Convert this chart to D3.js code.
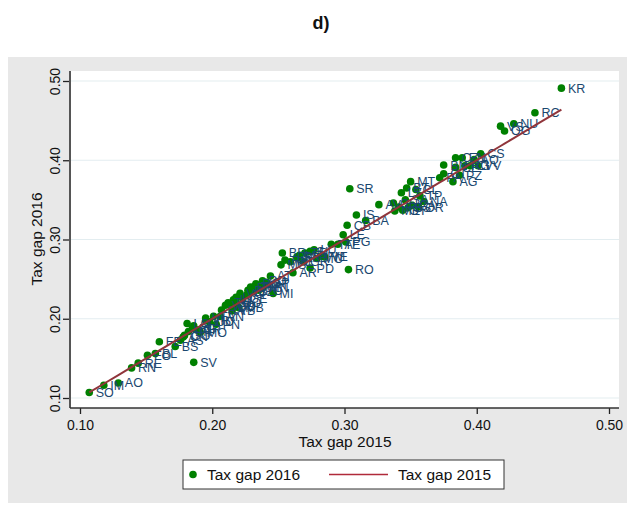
<!DOCTYPE html>
<html><head><meta charset="utf-8">
<script src="https://cdn.jsdelivr.net/npm/d3@7/dist/d3.min.js"></script>
<style>body{margin:0;background:#fff}svg{display:block}text{font-family:"Liberation Sans",Arial,sans-serif}</style>
</head><body><svg id="c" width="627" height="505"></svg>
<script>
const labels = ["SO","IM","AO","RN","RE","FO","BL","FE","SV","BS","AS","CN","LO","PR","BG","CR","MO","VR","UD","TV","AN","PN","VA","CO","LC","NO","VC","GE","MB","PV","TN","BZ","PC","MN","MI","PT","AT","MS","BR","AR","PD","VE","RI","VT","TR","SI","LU","GR","MC","PE","TA","PG","LE","CB","IS","BA","RO","SR","AV","CH","FG","LT","BT","MT","CL","SA","CA","SS","TP","NA","OT","PA","CT","BN","CZ","EN","CS","CE","CI","VV","AG","PZ","RG","AQ","VS","OG","NU","RC","KR","RA","BI","LI","PI","FI","BO","SP","TS","VI","AL","RM","FR","VB","GO","PO","FM","TE","ME","OR","TO"];
const gap2015 = [0.107,0.118,0.129,0.139,0.144,0.151,0.157,0.160,0.186,0.172,0.176,0.178,0.181,0.182,0.185,0.188,0.191,0.195,0.198,0.201,0.206,0.203,0.210,0.214,0.216,0.218,0.221,0.223,0.220,0.229,0.232,0.230,0.235,0.238,0.246,0.241,0.244,0.252,0.253,0.261,0.274,0.285,0.264,0.266,0.270,0.274,0.277,0.269,0.279,0.259,0.290,0.301,0.299,0.302,0.309,0.316,0.303,0.304,0.326,0.337,0.341,0.343,0.347,0.350,0.354,0.346,0.351,0.348,0.357,0.360,0.344,0.372,0.375,0.375,0.384,0.389,0.403,0.384,0.395,0.401,0.382,0.387,0.391,0.398,0.418,0.421,0.428,0.444,0.464,0.207,0.215,0.218,0.226,0.227,0.233,0.241,0.236,0.195,0.186,0.255,0.265,0.215,0.179,0.238,0.282,0.295,0.338,0.356,0.212];
const gap2016 = [0.107,0.116,0.119,0.138,0.144,0.154,0.156,0.171,0.145,0.165,0.173,0.177,0.194,0.184,0.188,0.186,0.183,0.198,0.196,0.203,0.203,0.193,0.217,0.217,0.224,0.221,0.232,0.226,0.214,0.240,0.241,0.234,0.236,0.239,0.232,0.243,0.254,0.268,0.283,0.258,0.264,0.278,0.278,0.280,0.283,0.285,0.287,0.272,0.276,0.272,0.294,0.297,0.306,0.318,0.331,0.324,0.262,0.364,0.344,0.346,0.341,0.359,0.365,0.373,0.363,0.350,0.343,0.340,0.355,0.348,0.337,0.378,0.383,0.394,0.403,0.403,0.408,0.391,0.393,0.393,0.373,0.381,0.393,0.401,0.443,0.437,0.446,0.460,0.491,0.211,0.215,0.227,0.230,0.236,0.244,0.246,0.240,0.201,0.191,0.274,0.277,0.210,0.179,0.248,0.279,0.294,0.336,0.341,0.220];
const xTicks = [0.10,0.20,0.30,0.40,0.50];
const yTicks = [0.10,0.20,0.30,0.40,0.50];
const data = labels.map((l,i)=>({l, x:gap2015[i], y:gap2016[i]}));

const svg = d3.select("#c");
const W=627,H=505;
const pl=70, pr=619, pt=71, pb=408;
const x = d3.scaleLinear().domain([0.10,0.50]).range([80,609]);
const y = d3.scaleLinear().domain([0.10,0.50]).range([398,81]);

svg.append("rect").attr("x",0).attr("y",0).attr("width",W).attr("height",H).attr("fill","#fff");
svg.append("rect").attr("x",8).attr("y",57).attr("width",W-8).attr("height",446).attr("fill","#e8e8e8");
svg.append("rect").attr("x",pl).attr("y",pt).attr("width",pr-pl).attr("height",pb-pt).attr("fill","#fff");

svg.append("text").attr("x",321).attr("y",29).attr("text-anchor","middle").attr("font-size",18).attr("font-weight","bold").attr("fill","#111").text("d)");

// grid
svg.append("g").selectAll("line").data(yTicks).join("line")
  .attr("x1",pl).attr("x2",pr).attr("y1",d=>y(d)).attr("y2",d=>y(d))
  .attr("stroke","#e3edf0").attr("stroke-width",1.2);

// y axis (ticks + rotated labels)
const yAxis = d3.axisLeft(y).tickValues(yTicks).tickSize(7).tickFormat(d3.format(".2f"));
const gy = svg.append("g").attr("transform",`translate(${pl},0)`).call(yAxis);
gy.select(".domain").remove();
gy.selectAll("line").attr("stroke","#222").attr("stroke-width",1.3);
gy.selectAll(".tick text").attr("font-size",14).attr("fill","#111")
  .attr("x",null).attr("dy",null).attr("y",0).attr("text-anchor","middle")
  .attr("transform",`translate(${60-pl},0) rotate(-90)`);

const xAxis = d3.axisBottom(x).tickValues(xTicks).tickSize(6).tickFormat(d3.format(".2f")).tickPadding(6);
const gx = svg.append("g").attr("transform",`translate(0,${pb})`).call(xAxis);
gx.select(".domain").remove();
gx.selectAll("line").attr("stroke","#222").attr("stroke-width",1.3);
gx.selectAll("text").attr("font-size",14).attr("fill","#111");

svg.append("line").attr("x1",pl).attr("x2",pl).attr("y1",pt).attr("y2",pb).attr("stroke","#555").attr("stroke-width",2);
svg.append("line").attr("x1",pl).attr("x2",pr).attr("y1",pb).attr("y2",pb).attr("stroke","#333").attr("stroke-width",1.5);

svg.append("text").attr("transform","translate(42,239) rotate(-90)").attr("text-anchor","middle").attr("font-size",15.5).attr("fill","#111").text("Tax gap 2016");
svg.append("text").attr("x",345).attr("y",447).attr("text-anchor","middle").attr("font-size",15.5).attr("fill","#111").text("Tax gap 2015");

// points
svg.append("g").selectAll("circle").data(data).join("circle")
  .attr("cx",d=>x(d.x)).attr("cy",d=>y(d.y)).attr("r",3.8).attr("fill","#008000");
svg.append("g").selectAll("text").data(data).join("text")
  .attr("x",d=>x(d.x)+6.5).attr("y",d=>y(d.y)+4.5).attr("font-size",12.5).attr("fill","#1a476f").text(d=>d.l);

// line y = x
const sorted = data.slice().sort((a,b)=>a.x-b.x);
svg.append("path").datum(sorted).attr("fill","none").attr("stroke","#90353b").attr("stroke-width",2)
  .attr("d",d3.line().x(d=>x(d.x)).y(d=>y(d.x)));

// legend
const lg = svg.append("g");
lg.append("rect").attr("x",183).attr("y",460).attr("width",321).attr("height",29).attr("fill","#fff").attr("stroke","#333").attr("stroke-width",1);
lg.append("circle").attr("cx",193).attr("cy",474.5).attr("r",3.8).attr("fill","#008000");
lg.append("text").attr("x",207).attr("y",480).attr("font-size",15.5).attr("fill","#111").text("Tax gap 2016");
lg.append("line").attr("x1",329).attr("x2",388).attr("y1",474.5).attr("y2",474.5).attr("stroke","#b02a3a").attr("stroke-width",1.5);
lg.append("text").attr("x",398).attr("y",480).attr("font-size",15.5).attr("fill","#111").text("Tax gap 2015");
</script></body></html>
